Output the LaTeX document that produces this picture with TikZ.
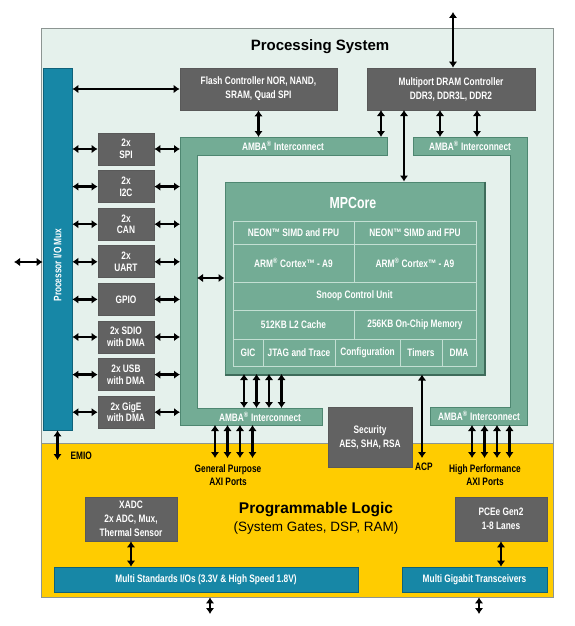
\documentclass[tikz,border=0pt]{standalone}
\usepackage{fontspec}
\setmainfont{Liberation Sans}
\newfontfamily\narrowfont[FakeStretch=0.77]{Liberation Sans}
\usetikzlibrary{arrows.meta}
\definecolor{psbg}{HTML}{E5F1EC}
\definecolor{psline}{HTML}{8C9592}
\definecolor{darkbox}{HTML}{626262}
\definecolor{ambagreen}{HTML}{73AC95}
\definecolor{ambaline}{HTML}{4E8771}
\definecolor{cellline}{HTML}{C3DFD3}
\definecolor{iob}{HTML}{1787A6}
\definecolor{ioline}{HTML}{0F627A}
\definecolor{plbg}{HTML}{FFCC00}
\begin{document}
    \begin{tikzpicture}[x=1pt, y=-1pt,
        box/.style={draw=black!65, fill=darkbox, text=white, line width=0.7pt, inner sep=0pt, align=center, font=\narrowfont\bfseries\fontsize{10.8}{14}\selectfont},
        periph/.style={box, minimum width=56pt, minimum height=32pt, font=\narrowfont\bfseries\fontsize{10.8}{11.7}\selectfont},
        iobar/.style={draw=ioline, fill=iob, text=white, line width=0.7pt, inner sep=0pt, font=\narrowfont\bfseries\fontsize{10.8}{12}\selectfont},
        cell/.style={draw=cellline, line width=0.7pt, text=white, inner sep=0pt, font=\narrowfont\bfseries\fontsize{10.8}{12}\selectfont},
        amba/.style={fill=ambagreen, draw=ambaline, line width=0.7pt},
        ambatext/.style={text=white, font=\narrowfont\bfseries\fontsize{10.8}{12}\selectfont},
        lbl/.style={align=center, font=\narrowfont\bfseries\fontsize{10.8}{13}\selectfont},
        bus/.style={{Latex[length=6pt, width=8.5pt]}-{Latex[length=6pt, width=8.5pt]}, line width=2.3pt}]
        \useasboundingbox (0, 0) rectangle (575, 626);
        \node [fill=psbg, draw=psline, line width=0.8pt, minimum width=512pt, minimum height=415pt] (ps) at (297, 235.5) {};
        \node [fill=plbg, draw=psline, line width=0.8pt, minimum width=512pt, minimum height=154pt] (pl) at (297, 520) {};
        \node [font=\bfseries\fontsize{15}{18}\selectfont] (pstitle) at (320, 47) {Processing System};
        \node [font=\bfseries\fontsize{15.5}{19}\selectfont] (pltitle) at (316, 510) {Programmable Logic};
        \node [font=\fontsize{13.5}{16}\selectfont] (plsub) at (316, 528) {(System Gates, DSP, RAM)};
        \node [iobar, minimum width=29pt, minimum height=362pt] (mux) at (57.5, 249) {};
        \node [ambatext, rotate=90] (muxlbl) at (57.5, 265) {Processor I/O Mux};
        \node [box, minimum width=157pt, minimum height=42pt] (flash) at (258.5, 89) {Flash Controller NOR, NAND,\\SRAM, Quad SPI};
        \node [box, minimum width=168pt, minimum height=42pt] (dram) at (451, 89) {Multiport DRAM Controller\\DDR3, DDR3L, DDR2};
        \foreach \t [count=\i] in {{2x\\SPI}, {2x\\I2C}, {2x\\CAN}, {2x\\UART}, GPIO, {2x SDIO\\with DMA}, {2x USB\\with DMA}, {2x GigE\\with DMA}}
            \node [periph] (p\i) at (126, 111.4+37.6*\i) {\t};
        \coordinate (la1) at (180, 137);
        \coordinate (la2) at (387, 137);
        \coordinate (la3) at (387, 155);
        \coordinate (la4) at (197, 155);
        \coordinate (la5) at (197, 408);
        \coordinate (la6) at (322, 408);
        \coordinate (la7) at (322, 425);
        \coordinate (la8) at (180, 425);
        \coordinate (ra1) at (413, 137);
        \coordinate (ra2) at (527, 137);
        \coordinate (ra3) at (527, 425);
        \coordinate (ra4) at (430, 425);
        \coordinate (ra5) at (430, 407);
        \coordinate (ra6) at (510, 407);
        \coordinate (ra7) at (510, 155);
        \coordinate (ra8) at (413, 155);
        \draw [amba] (la1) -- (la2) -- (la3) -- (la4) -- (la5) -- (la6) -- (la7) -- (la8) -- cycle;
        \draw [amba] (ra1) -- (ra2) -- (ra3) -- (ra4) -- (ra5) -- (ra6) -- (ra7) -- (ra8) -- cycle;
        \node [ambatext] (amba1) at (283, 146) {AMBA\textsuperscript{\textregistered} Interconnect};
        \node [ambatext] (amba2) at (470, 146) {AMBA\textsuperscript{\textregistered} Interconnect};
        \node [ambatext] (amba3) at (260, 416.5) {AMBA\textsuperscript{\textregistered} Interconnect};
        \node [ambatext] (amba4) at (479, 416) {AMBA\textsuperscript{\textregistered} Interconnect};
        \node [fill=ambagreen, draw=ambaline, line width=1pt, minimum width=259pt, minimum height=192pt, inner sep=0pt] (mp) at (354.5, 278) {};
        \draw [ambaline!80!black, line width=2pt] (mp.north east) to (mp.south east) to (mp.south west);
        \node [ambatext, font=\narrowfont\bfseries\fontsize{16}{18}\selectfont] (mptitle) at (353, 203) {MPCore};
        \node [cell, minimum width=121pt, minimum height=23pt] (neon1) at (293.5, 232.5) {NEON\texttrademark\ SIMD and FPU};
        \node [cell, minimum width=122pt, minimum height=23pt] (neon2) at (415, 232.5) {NEON\texttrademark\ SIMD and FPU};
        \node [cell, minimum width=121pt, minimum height=38pt] (arm1) at (293.5, 263) {ARM\textsuperscript{\textregistered} Cortex\texttrademark\ - A9};
        \node [cell, minimum width=122pt, minimum height=38pt] (arm2) at (415, 263) {ARM\textsuperscript{\textregistered} Cortex\texttrademark\ - A9};
        \node [cell, minimum width=243pt, minimum height=28pt] (scu) at (354.5, 296) {Snoop Control Unit};
        \node [cell, minimum width=121pt, minimum height=29pt] (l2) at (293.5, 324.5) {512KB L2 Cache};
        \node [cell, minimum width=122pt, minimum height=29pt] (ocm) at (415, 324.5) {256KB On-Chip Memory};
        \node [cell, minimum width=30pt, minimum height=27pt] (gic) at (248, 352.5) {GIC};
        \node [cell, minimum width=72pt, minimum height=27pt] (jtag) at (299, 352.5) {JTAG and Trace};
        \node [cell, minimum width=65pt, minimum height=27pt] (conf) at (367.5, 352.5) {Configuration};
        \node [cell, minimum width=42pt, minimum height=27pt] (tim) at (421, 352.5) {Timers};
        \node [cell, minimum width=34pt, minimum height=27pt] (dma) at (459, 352.5) {DMA};
        \node [box, minimum width=84pt, minimum height=60pt] (sec) at (370, 437) {Security\\AES, SHA, RSA};
        \node [box, minimum width=92pt, minimum height=44pt] (xadc) at (131, 519) {XADC\\2x ADC, Mux,\\Thermal Sensor};
        \node [box, minimum width=92pt, minimum height=44pt] (pcie) at (501, 519) {PCEe Gen2\\1-8 Lanes};
        \node [iobar, minimum width=304pt, minimum height=25pt] (msio) at (206, 579.5) {Multi Standards I/Os (3.3V \& High Speed 1.8V)};
        \node [iobar, minimum width=145pt, minimum height=25pt] (mgt) at (474.5, 579.5) {Multi Gigabit Transceivers};
        \node [lbl, anchor=west] (emiolbl) at (67, 456) {EMIO};
        \node [lbl] (gplbl) at (228, 475.5) {General Purpose\\AXI Ports};
        \node [lbl] (hplbl) at (485, 475.5) {High Performance\\AXI Ports};
        \node [lbl] (acplbl) at (424, 467) {ACP};
        \coordinate (ddr) at (453, 12);
        \coordinate (mio) at (14, 262);
        \coordinate (emio) at (57, 460);
        \coordinate (acp) at (422, 458);
        \coordinate (io1) at (210, 614);
        \coordinate (io2) at (479, 614);
        \coordinate (d1) at (381, 110);
        \coordinate (d2) at (404, 110);
        \coordinate (d3) at (440, 110);
        \coordinate (d4) at (477, 110);
        \draw [bus] (ddr) to (ddr |- dram.north);
        \draw [bus] (mio) to (mio -| mux.west);
        \draw [bus] (mux.south) to (mux.south |- emio);
        \draw [bus] (mux.east |- flash.west) to (flash.west);
        \draw [bus] (flash.south) to (flash.south |- la1);
        \draw [bus] (d1) to (d1 |- la2);
        \draw [bus] (d2) to (d2 |- mp.north);
        \draw [bus] (d3) to (d3 |- ra1);
        \draw [bus] (d4) to (d4 |- ra1);
        \foreach \i in {1,...,8} {
            \draw [bus] (mux.east |- p\i.west) to (p\i.west);
            \draw [bus] (p\i.east) to (p\i.east -| la1);
        }
        \draw [bus] (mp.west -| la4) to (mp.west);
        \foreach \x [count=\i] in {244, 256.5, 269, 281.5} {
            \coordinate (m\i) at (\x, 374);
            \draw [bus] (m\i) to (m\i |- la5);
        }
        \foreach \x [count=\i] in {215, 227.5, 240, 252.5} {
            \coordinate (g\i) at (\x, 458);
            \draw [bus] (g\i |- la8) to (g\i);
        }
        \foreach \x [count=\i] in {472, 484.5, 497, 509.5} {
            \coordinate (h\i) at (\x, 458);
            \draw [bus] (h\i |- ra4) to (h\i);
        }
        \draw [bus] (acp |- mp.south) to (acp);
        \draw [bus] (xadc.south) to (xadc.south |- msio.north);
        \draw [bus] (pcie.south) to (pcie.south |- mgt.north);
        \draw [bus] (io1 |- pl.south) to (io1);
        \draw [bus] (io2 |- pl.south) to (io2);
    \end{tikzpicture}
\end{document}
